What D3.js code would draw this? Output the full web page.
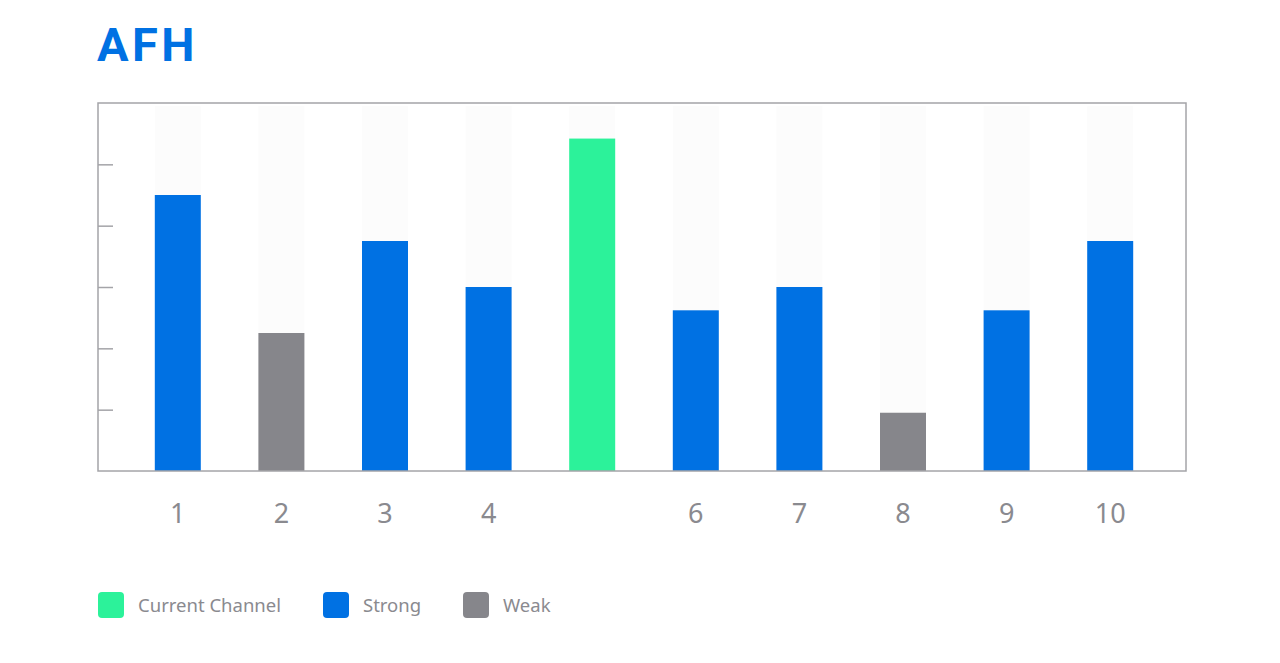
<!DOCTYPE html>
<html>
<head>
<meta charset="utf-8">
<script src="https://cdn.jsdelivr.net/npm/d3@7"></script>
<style>
  html, body { margin: 0; padding: 0; background: #ffffff; }
  svg { display: block; }
</style>
</head>
<body>
<svg id="chart" width="1280" height="663"></svg>
<script>
const title = "AFH";
const channels = ["1", "2", "3", "4", "5", "6", "7", "8", "9", "10"];
const tickLabels = ["1", "2", "3", "4", "", "6", "7", "8", "9", "10"];
const values = [4.5, 2.25, 3.75, 3, 5.42, 2.62, 3, 0.95, 2.62, 3.75];
const kinds = ["Strong", "Weak", "Strong", "Strong", "Current Channel", "Strong", "Strong", "Weak", "Strong", "Strong"];
const yTicks = [1, 2, 3, 4, 5];
const yMax = 6;
const bgValue = 5.95;
const legendItems = ["Current Channel", "Strong", "Weak"];
const colors = { "Current Channel": "#2cf29a", "Strong": "#0071e3", "Weak": "#86868b" };

const svg = d3.select("#chart");
const frame = { left: 98, right: 1186, top: 103, bottom: 471 };

svg.append("text")
  .attr("x", 97).attr("y", 61)
  .attr("font-family", "Roboto, 'Noto Sans', sans-serif")
  .attr("font-weight", 700)
  .attr("font-size", 47)
  .attr("letter-spacing", 3.5)
  .attr("fill", "#0071e3")
  .text(title);

const x = d3.scaleBand().domain(channels).range([126, 1162]).paddingInner(0.556).paddingOuter(0.278);
const y = d3.scaleLinear().domain([0, yMax]).range([frame.bottom, frame.top]);

// background bars
svg.append("g").selectAll("rect").data(channels).join("rect")
  .attr("x", d => x(d)).attr("width", x.bandwidth())
  .attr("y", y(bgValue)).attr("height", y(0) - y(bgValue))
  .attr("fill", "#fcfcfc");

// bars
svg.append("g").selectAll("rect").data(channels).join("rect")
  .attr("x", d => x(d)).attr("width", x.bandwidth())
  .attr("y", (d, i) => y(values[i]))
  .attr("height", (d, i) => y(0) - y(values[i]))
  .attr("fill", (d, i) => colors[kinds[i]]);

// frame
svg.append("rect")
  .attr("x", frame.left).attr("y", frame.top)
  .attr("width", frame.right - frame.left).attr("height", frame.bottom - frame.top)
  .attr("fill", "none").attr("stroke", "#a4a4a8").attr("stroke-width", 1.5);

// left axis with inner ticks
const yAxis = svg.append("g").attr("transform", `translate(${frame.left},0)`)
  .call(d3.axisRight(y).tickValues(yTicks).tickSize(15).tickFormat(""));
yAxis.select(".domain").remove();
yAxis.selectAll("line").attr("stroke", "#a4a4a8").attr("stroke-width", 1.5);

// bottom axis labels
const xAxis = svg.append("g").attr("transform", `translate(0,${frame.bottom})`)
  .call(d3.axisBottom(x).tickSize(0).tickPadding(33).tickFormat((d, i) => tickLabels[i]));
xAxis.select(".domain").remove();
xAxis.selectAll("text")
  .attr("font-family", "'Noto Sans', sans-serif")
  .attr("font-size", 27)
  .attr("fill", "#8a8a8f");

// legend
const legendX = [98, 323, 463];
const lg = svg.append("g").selectAll("g").data(legendItems).join("g")
  .attr("transform", (d, i) => `translate(${legendX[i]},592)`);
lg.append("rect").attr("width", 26).attr("height", 26).attr("rx", 4)
  .attr("fill", d => colors[d]);
lg.append("text").attr("x", 40).attr("y", 19.5)
  .attr("font-family", "'Noto Sans', sans-serif")
  .attr("font-size", 18.5)
  .attr("fill", "#8a8a8f")
  .text(d => d);
</script>
</body>
</html>
